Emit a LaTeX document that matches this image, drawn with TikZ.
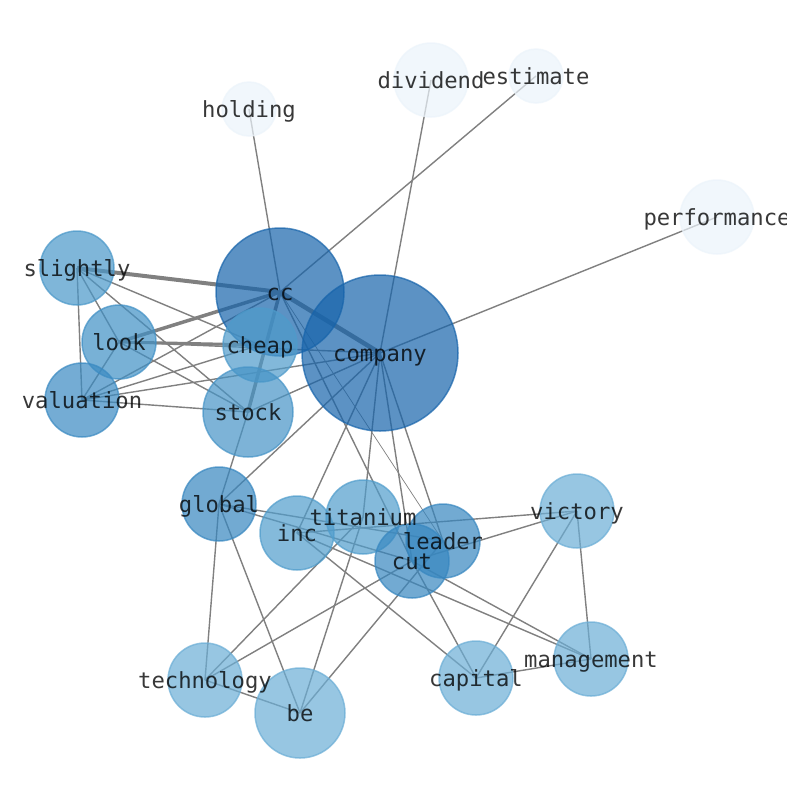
\documentclass[tikz,border=0pt]{standalone}
\usepackage{fontspec}
\newfontfamily\lblfont{DejaVu Sans Mono}
\pgfdeclarelayer{edgelayer}
\pgfdeclarelayer{labellayer}
\pgfsetlayers{edgelayer,main,labellayer}
\definecolor{cDark}{RGB}{23,100,171}
\definecolor{cSlightly}{RGB}{74,152,201}
\definecolor{cLook}{RGB}{64,144,197}
\definecolor{cValuation}{RGB}{58,138,194}
\definecolor{cCheap}{RGB}{78,155,203}
\definecolor{cStock}{RGB}{70,148,199}
\definecolor{cMid}{RGB}{55,135,192}
\definecolor{cInc}{RGB}{80,157,204}
\definecolor{cLight}{RGB}{107,174,214}
\definecolor{cPale}{RGB}{236,244,251}
\definecolor{edgegray}{RGB}{128,128,128}
\begin{document}
\begin{tikzpicture}[x=1pt,y=-1pt,
  vtx/.style 2 args={circle, inner sep=0pt, outer sep=0pt, minimum size=#1,
     line width=1.5pt, fill=#2, draw=#2, opacity=0.7},
  lbl/.style={font=\lblfont\fontsize{22.2}{26}\selectfont, text=black, text opacity=0.78,
     inner sep=0pt, anchor=base},
  edge/.style={draw=edgegray, line width=1.4pt},
  heavy/.style={draw=edgegray, line width=#1}]
\useasboundingbox (0,0) rectangle (794,790);
% nodes
\node[vtx={128}{cDark}] (cc) at (280,292) {};
\node[vtx={156}{cDark}] (company) at (380,353) {};
\node[vtx={54}{cPale}] (holding) at (249,109) {};
\node[vtx={74}{cPale}] (dividend) at (431,80) {};
\node[vtx={54}{cPale}] (estimate) at (536,76) {};
\node[vtx={74}{cPale}] (performance) at (717,217) {};
\node[vtx={74}{cSlightly}] (slightly) at (77,268) {};
\node[vtx={74}{cLook}] (look) at (119,342) {};
\node[vtx={74}{cValuation}] (valuation) at (82,400) {};
\node[vtx={74}{cCheap}] (cheap) at (260,345) {};
\node[vtx={90}{cStock}] (stock) at (248,412) {};
\node[vtx={74}{cMid}] (global) at (219,504) {};
\node[vtx={74}{cInc}] (inc) at (297,533) {};
\node[vtx={74}{cInc}] (titanium) at (363,517) {};
\node[vtx={74}{cMid}] (leader) at (443,541) {};
\node[vtx={74}{cMid}] (cut) at (412,561) {};
\node[vtx={74}{cLight}] (victory) at (577,511) {};
\node[vtx={74}{cLight}] (management) at (591,659) {};
\node[vtx={74}{cLight}] (capital) at (476,678) {};
\node[vtx={74}{cLight}] (technology) at (205,680) {};
\node[vtx={90}{cLight}] (be) at (300,713) {};
% edges
\begin{pgfonlayer}{edgelayer}
\fill[white] (0,0) rectangle (794,790);
\draw[edge] (cc.center) -- (holding.center);
\draw[edge] (cc.center) -- (estimate.center);
\draw[edge] (company.center) -- (dividend.center);
\draw[edge] (company.center) -- (performance.center);
\draw[heavy=4pt] (slightly.center) -- (cc.center);
\draw[edge] (slightly.center) -- (cheap.center);
\draw[edge] (slightly.center) -- (stock.center);
\draw[edge] (slightly.center) -- (look.center);
\draw[edge] (slightly.center) -- (valuation.center);
\draw[heavy=3.5pt] (look.center) -- (cc.center);
\draw[heavy=3pt] (look.center) -- (cheap.center);
\draw[edge] (look.center) -- (company.center);
\draw[edge] (look.center) -- (valuation.center);
\draw[edge] (look.center) -- (stock.center);
\draw[edge] (valuation.center) -- (cc.center);
\draw[edge] (valuation.center) -- (cheap.center);
\draw[edge] (valuation.center) -- (company.center);
\draw[edge] (valuation.center) -- (stock.center);
\draw[heavy=4.5pt] (cc.center) -- (company.center);
\draw[heavy=3.5pt] (cc.center) -- (stock.center);
\draw[edge] (stock.center) -- (company.center);
\draw[edge] (stock.center) -- (global.center);
\draw[edge] (company.center) -- (global.center);
\draw[edge] (company.center) -- (inc.center);
\draw[edge] (company.center) -- (titanium.center);
\draw[edge] (company.center) -- (cut.center);
\draw[edge] (company.center) -- (leader.center);
\draw[edge] (cc.center) -- (cut.center);
\draw[heavy=0.7pt] (cc.center) -- (leader.center);
\draw[edge] (global.center) -- (technology.center);
\draw[edge] (global.center) -- (be.center);
\draw[edge] (global.center) -- (leader.center);
\draw[edge] (global.center) -- (cut.center);
\draw[edge] (inc.center) -- (victory.center);
\draw[edge] (inc.center) -- (management.center);
\draw[edge] (inc.center) -- (capital.center);
\draw[edge] (titanium.center) -- (be.center);
\draw[edge] (titanium.center) -- (technology.center);
\draw[edge] (technology.center) -- (cut.center);
\draw[edge] (technology.center) -- (be.center);
\draw[edge] (be.center) -- (leader.center);
\draw[edge] (cut.center) -- (capital.center);
\draw[edge] (cut.center) -- (victory.center);
\draw[edge] (cut.center) -- (management.center);
\draw[edge] (victory.center) -- (capital.center);
\draw[edge] (victory.center) -- (management.center);
\draw[edge] (capital.center) -- (management.center);
\end{pgfonlayer}
% labels
\begin{pgfonlayer}{labellayer}
\begin{scope}
\clip (0,0) rectangle (786,790);
\foreach \n in {holding,dividend,estimate,performance,cc,company,slightly,look,valuation,cheap,stock,global,inc,titanium,leader,cut,victory,management,capital,technology,be}
  \node[lbl] (l\n) at ([yshift=-8.3pt]\n.center) {\n};
\end{scope}
\end{pgfonlayer}
\end{tikzpicture}
\end{document}
